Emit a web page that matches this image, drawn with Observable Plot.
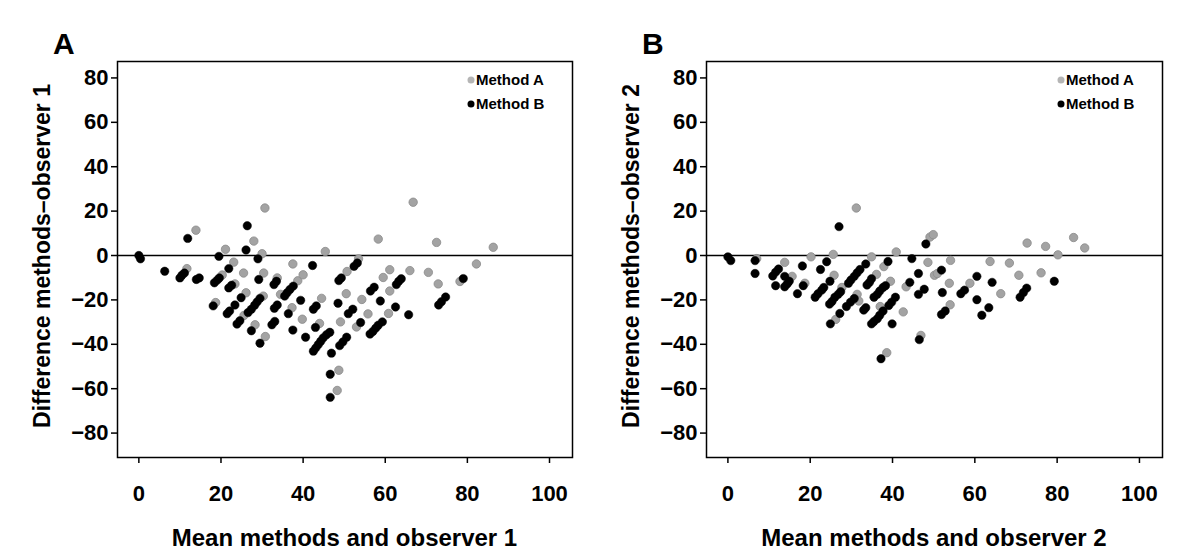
<!DOCTYPE html>
<html>
<head>
<meta charset="utf-8">
<script src="https://cdn.jsdelivr.net/npm/d3@7"></script>
<script src="https://cdn.jsdelivr.net/npm/@observablehq/plot@0.6"></script>
<style>
  html, body { margin: 0; padding: 0; background: #fff; }
  #wrap { position: relative; width: 1200px; height: 551px; overflow: hidden; background: #fff;
          font-family: "Liberation Sans", Arial, Helvetica, sans-serif; font-weight: bold; color: #000; }
  .panel { position: absolute; top: 0; width: 600px; height: 551px; }
  .letter { position: absolute; font-size: 30px; line-height: 1; }
  .ytitle { position: absolute; font-size: 23px; white-space: nowrap; transform: translate(-50%, -50%) rotate(-90deg); line-height: 1; }
  .xtitle { position: absolute; font-size: 24px; white-space: nowrap; transform: translate(-50%, -50%); line-height: 1; }
  .leg { position: absolute; font-size: 15px; white-space: nowrap; line-height: 1; transform: translateY(-50%); }
  .legdot { position: absolute; width: 7px; height: 7px; border-radius: 50%; transform: translate(-50%, -50%); }
</style>
</head>
<body>
<div id="wrap"></div>
<script>
// ---- Data ----
const xTicks = [0, 20, 40, 60, 80, 100];
const yTicks = [80, 60, 40, 20, 0, -20, -40, -60, -80];
const seriesNames = ["Method A", "Method B"];
const panelLetters = ["A", "B"];
const xTitles = ["Mean methods and observer 1", "Mean methods and observer 2"];
const yTitles = ["Difference methods\u2013observer 1", "Difference methods\u2013observer 2"];

// Panel A (observer 1): [mean, difference]
const obs1MethodA = [
  [11.7,-5.9],[13.9,11.4],[18.7,-21.2],[20.3,-8.8],[21.1,2.8],[23.1,-3.0],[23.4,-12.8],[25.5,-7.9],
  [25.6,-27.0],[26.1,-16.8],[28.0,6.5],[28.3,-31.2],[30.0,0.8],[30.3,-18.3],[30.4,-7.9],[30.7,21.4],
  [30.8,-36.5],[33.7,-10.1],[34.5,-17.5],[37.3,-23.5],[37.5,-3.8],[38.7,-11.4],[39.8,-28.7],[40.0,-8.7],
  [44.0,-30.6],[44.5,-19.3],[45.4,1.8],[48.3,-60.8],[48.7,-51.7],[49.1,-29.9],[50.5,-17.2],[50.7,-7.2],
  [53.0,-32.2],[53.5,-1.5],[54.3,-19.8],[55.8,-26.3],[58.3,7.4],[59.5,-9.9],[60.8,-26.1],[61.1,-6.4],
  [61.1,-16.0],[66.0,-6.8],[66.8,24.0],[70.5,-7.6],[72.5,5.9],[72.9,-12.8],[78.2,-11.7],[82.2,-3.8],[86.3,3.7]
];
const obs1MethodB = [
  [0,0],[0.4,-1.5],[6.3,-7.1],[10.0,-10.1],[10.5,-8.9],[11.1,-7.9],[11.9,7.7],[14.0,-10.8],[14.7,-10.1],
  [18.4,-12.3],[19.1,-11.1],[19.6,-10.1],[19.5,-0.4],[21.9,-5.9],[18.1,-22.7],[21.9,-14.6],[22.6,-13.4],
  [21.5,-26.2],[22.1,-25.0],[23.4,-22.3],[23.9,-30.9],[24.6,-29.4],[24.9,-19.0],[26.4,13.4],[26.1,2.5],
  [29.0,-1.5],[27.4,-33.9],[29.5,-39.5],[26.6,-25.7],[27.4,-24.2],[28.2,-22.4],[28.8,-20.9],[29.5,-19.3],
  [29.2,-10.8],[32.4,-31.2],[33.1,-29.7],[33.0,-23.8],[33.7,-22.3],[32.9,-13.1],[33.5,-11.6],[35.5,-18.3],
  [36.1,-16.8],[36.8,-15.3],[37.6,-13.8],[36.4,-26.2],[37.5,-33.6],[39.4,-20.2],[42.3,-4.5],[40.6,-36.8],
  [42.5,-43.1],[43.1,-41.6],[43.7,-40.1],[44.3,-38.6],[44.9,-37.1],[45.7,-35.7],[46.5,-34.6],[42.5,-24.2],
  [43.2,-22.7],[43.0,-32.4],[46.9,-44.0],[48.7,-11.3],[49.3,-10.1],[48.5,-21.5],[48.9,-40.6],[49.7,-38.9],
  [50.6,-36.8],[51.0,-26.2],[52.1,-24.2],[52.4,-4.9],[53.2,-3.4],[54.0,-30.2],[56.3,-35.4],[57.0,-34.2],
  [57.7,-32.7],[58.3,-31.4],[59.3,-29.9],[58.8,-20.5],[56.4,-16.0],[57.3,-14.3],[62.5,-23.2],[62.7,-13.1],
  [63.3,-11.6],[63.9,-10.5],[65.7,-26.7],[73.0,-22.3],[73.7,-20.8],[74.7,-18.7],[79.0,-10.4],[46.6,-53.5],[46.6,-63.9]
];

// Panel B (observer 2): [mean, difference]
const obs2MethodA = [
  [7.0,-1.4],[13.8,-3.1],[15.6,-9.4],[18.7,-12.5],[20.2,-0.6],[25.6,0.5],[25.8,-8.9],[26.2,-28.8],
  [27.7,-14.4],[31.2,21.4],[31.4,-17.5],[31.8,-20.5],[34.9,-0.6],[36.1,-8.5],[37.0,-23.0],[37.9,-5.0],
  [39.5,-11.6],[38.6,-43.8],[40.9,1.6],[42.6,-25.4],[43.3,-14.1],[46.9,-36.0],[48.6,-3.1],[49.1,8.3],
  [49.9,9.4],[50.2,-8.9],[50.9,-8.1],[54.1,-2.2],[53.8,-12.5],[54.0,-22.2],[58.8,-12.5],[63.7,-2.7],
  [66.3,-17.2],[68.4,-3.4],[70.7,-8.9],[72.7,5.6],[76.1,-7.8],[77.2,4.1],[80.2,0.3],[84.0,8.1],[86.7,3.4]
];
const obs2MethodB = [
  [0,-0.6],[0.7,-2.3],[6.6,-2.3],[6.6,-8.1],[10.9,-9.2],[11.6,-7.5],[12.3,-6.1],[11.6,-13.6],[13.8,-9.4],
  [13.8,-14.1],[14.4,-12.8],[14.9,-11.6],[16.9,-17.2],[18.3,-13.6],[18.1,-4.7],[21.2,-18.8],[21.9,-17.2],
  [22.8,-15.6],[23.3,-14.4],[22.5,-6.3],[24.0,-2.8],[24.8,-11.6],[24.9,-30.8],[24.7,-21.9],[25.3,-20.7],
  [26.0,-18.8],[26.8,-17.5],[27.4,-16.3],[27.0,13.0],[27.2,-26.1],[28.8,-23.0],[29.8,-21.0],[30.7,-19.4],
  [29.3,-12.5],[29.9,-11.0],[30.7,-9.4],[31.4,-7.8],[32.1,-6.3],[33.5,-3.8],[33.0,-24.6],[33.5,-23.5],
  [33.8,-13.3],[34.4,-12.1],[34.9,-30.8],[35.5,-29.7],[36.3,-28.5],[36.9,-26.9],[37.7,-25.0],[35.5,-18.8],
  [36.3,-17.5],[36.9,-16.0],[37.7,-14.4],[38.3,-13.6],[34.9,-10.5],[37.2,-46.5],[38.9,-2.7],[39.1,-22.5],
  [39.8,-21.0],[40.7,-18.8],[39.9,-30.8],[44.2,-12.1],[44.7,-1.4],[46.3,-8.1],[46.3,-17.5],[47.7,-15.2],
  [46.5,-37.9],[48.1,5.2],[51.9,-6.6],[52.1,-16.7],[51.9,-26.6],[52.8,-25.0],[56.6,-17.2],[57.5,-15.6],
  [60.5,-9.4],[60.5,-19.9],[61.7,-26.9],[63.4,-23.5],[64.2,-12.1],[71.0,-18.8],[71.8,-16.7],[72.6,-14.7],[79.3,-11.6]
];

// ---- Styling / layout ----
const xDomain = [-5.2, 105.6];
const yDomain = [-91, 87.4];
const grayFill = "#a3a3a3", grayStroke = "#8a8a8a";

function makePanel(gray, black, mL, mR) {
  return Plot.plot({
    width: 600, height: 551,
    marginTop: 61, marginBottom: 94, marginLeft: mL, marginRight: mR,
    x: { domain: xDomain },
    y: { domain: yDomain },
    style: { background: "white", fontFamily: "'Liberation Sans', Arial, sans-serif", fontWeight: "bold", fontSize: "22px", color: "#000" },
    marks: [
      Plot.axisY(yTicks, { tickSize: 6, tickPadding: 3, fontSize: 22, fontWeight: "bold", strokeWidth: 1.5, label: null }),
      Plot.axisX(xTicks, { tickSize: 6, tickPadding: 22, fontSize: 22, fontWeight: "bold", strokeWidth: 1.5, label: null }),
      Plot.ruleY([0], { stroke: "#000", strokeWidth: 1.5 }),
      Plot.dot(gray, { x: d => d[0], y: d => d[1], r: 4.2, fill: grayFill, stroke: grayStroke, strokeWidth: 0.8 }),
      Plot.dot(black, { x: d => d[0], y: d => d[1], r: 4.2, fill: "#000", stroke: "#000", strokeWidth: 0.5 }),
      Plot.frame({ stroke: "#000", strokeWidth: 1.5 })
    ]
  });
}

const wrap = document.getElementById("wrap");
const panels = [
  { gray: obs1MethodA, black: obs1MethodB, left: 0, mL: 117, mR: 28 },
  { gray: obs2MethodA, black: obs2MethodB, left: 600, mL: 106, mR: 38 }
];

panels.forEach((p, i) => {
  const div = document.createElement("div");
  div.className = "panel";
  div.style.left = p.left + "px";
  div.appendChild(makePanel(p.gray, p.black, p.mL, p.mR));
  wrap.appendChild(div);

  const frameL = p.left + p.mL, frameR = p.left + 600 - p.mR;
  const cx = (frameL + frameR) / 2;

  const letter = document.createElement("div");
  letter.className = "letter";
  letter.textContent = panelLetters[i];
  letter.style.left = (frameL - 64) + "px";
  letter.style.top = "29px";
  wrap.appendChild(letter);

  const yt = document.createElement("div");
  yt.className = "ytitle";
  yt.textContent = yTitles[i];
  yt.style.left = (frameL - 75) + "px";
  yt.style.top = "256px";
  wrap.appendChild(yt);

  const xt = document.createElement("div");
  xt.className = "xtitle";
  xt.textContent = xTitles[i];
  xt.style.left = cx + "px";
  xt.style.top = "538px";
  wrap.appendChild(xt);

  seriesNames.forEach((name, k) => {
    const cy = 79 + k * 24;
    const dot = document.createElement("div");
    dot.className = "legdot";
    dot.style.left = (frameR - 101) + "px";
    dot.style.top = (cy + 1) + "px";
    dot.style.background = k === 0 ? "#b5b5b5" : "#000";
    wrap.appendChild(dot);
    const t = document.createElement("div");
    t.className = "leg";
    t.textContent = name;
    t.style.left = (frameR - 96) + "px";
    t.style.top = cy + "px";
    wrap.appendChild(t);
  });
});
</script>
</body>
</html>
